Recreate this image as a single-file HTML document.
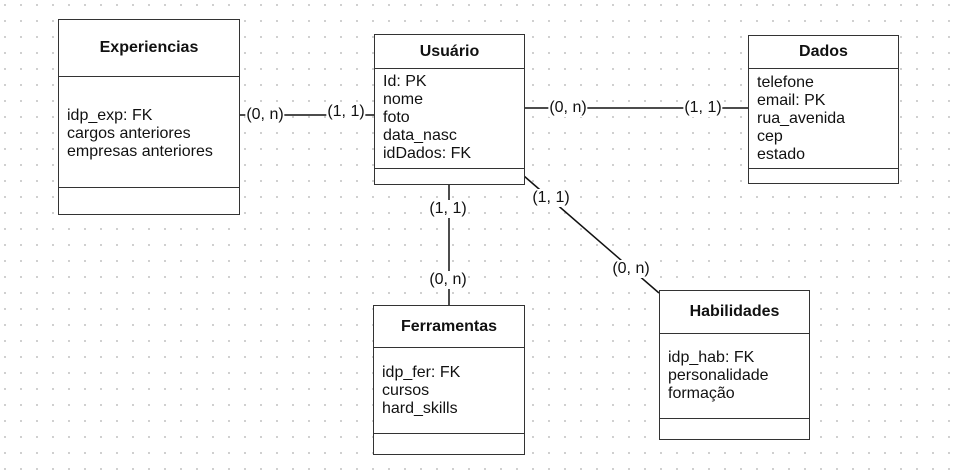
<!DOCTYPE html>
<html><head><meta charset="utf-8"><style>
body{margin:0;width:961px;height:476px;overflow:hidden;background:#fff;
background-image:radial-gradient(circle,#c8c8c8 0.9px,transparent 1.2px);background-size:16px 16px;background-position:-3px -3px;
font-family:"Liberation Sans",sans-serif;color:#111;position:relative}
.b{position:absolute;border:1px solid #333;background:#fff;box-sizing:border-box}
.h{position:absolute;left:0;right:0;top:0;border-bottom:1px solid #333;display:flex;align-items:center;justify-content:center;font-weight:bold;font-size:16px}
.t{position:absolute;left:0;right:0;font-size:16px;line-height:18px;padding-left:8px}
.l{position:absolute;border-top:1px solid #333;left:0;right:0}
.lb{position:absolute;background:#fff;font-size:16px;line-height:18px;transform:translate(-50%,-50%);white-space:nowrap;padding:0 1px}
svg{position:absolute;left:0;top:0}
</style></head><body>
<svg width="961" height="476"><g stroke="#111" stroke-width="1.5">
<line x1="239" y1="115" x2="374" y2="115"/>
<line x1="524" y1="108" x2="748" y2="108"/>
<line x1="449" y1="185" x2="449" y2="305"/>
<line x1="524" y1="176" x2="659" y2="293"/>
</g></svg>
<div class="b" style="left:58px;top:19px;width:182px;height:196px">
<div class="h" style="height:56px">Experiencias</div>
<div class="t" style="top:87px">idp_exp: FK<br>cargos anteriores<br>empresas anteriores</div>
<div class="l" style="top:167px"></div></div>
<div class="b" style="left:374px;top:34px;width:151px;height:151px">
<div class="h" style="height:33px">Usuário</div>
<div class="t" style="top:38px">Id: PK<br>nome<br>foto<br>data_nasc<br>idDados: FK</div>
<div class="l" style="top:133px"></div></div>
<div class="b" style="left:748px;top:35px;width:151px;height:149px">
<div class="h" style="height:32px">Dados</div>
<div class="t" style="top:38px">telefone<br>email: PK<br>rua_avenida<br>cep<br>estado</div>
<div class="l" style="top:132px"></div></div>
<div class="b" style="left:373px;top:305px;width:152px;height:150px">
<div class="h" style="height:41px">Ferramentas</div>
<div class="t" style="top:58px">idp_fer: FK<br>cursos<br>hard_skills</div>
<div class="l" style="top:127px"></div></div>
<div class="b" style="left:659px;top:290px;width:151px;height:150px">
<div class="h" style="height:42px">Habilidades</div>
<div class="t" style="top:58px">idp_hab: FK<br>personalidade<br>formação</div>
<div class="l" style="top:127px"></div></div>
<div class="lb" style="left:265px;top:115px">(0, n)</div>
<div class="lb" style="left:346px;top:112px">(1, 1)</div>
<div class="lb" style="left:568px;top:108px">(0, n)</div>
<div class="lb" style="left:703px;top:108px">(1, 1)</div>
<div class="lb" style="left:448px;top:209px">(1, 1)</div>
<div class="lb" style="left:448px;top:280px">(0, n)</div>
<div class="lb" style="left:551px;top:198px">(1, 1)</div>
<div class="lb" style="left:631px;top:269px">(0, n)</div>
</body></html>
